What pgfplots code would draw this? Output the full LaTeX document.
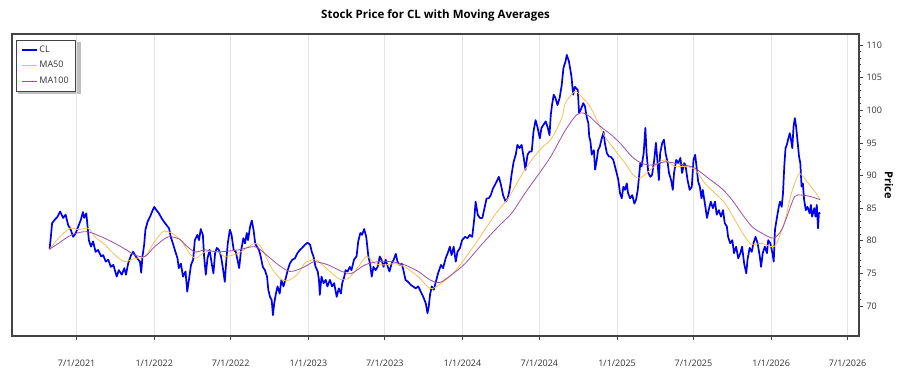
\documentclass[border=0pt]{standalone}
\usepackage{fontspec}
\setmainfont{Open Sans}
\usepackage{pgfplots}
\usepackage{pgfplotstable}
\pgfplotsset{compat=1.18}
\definecolor{clblue}{HTML}{0000F0}
\definecolor{maorange}{HTML}{F8BE55}
\definecolor{mapurple}{HTML}{9A4FA6}
\definecolor{axisgray}{HTML}{444444}
\definecolor{gridgray}{HTML}{E4E4E4}
\definecolor{ticktext}{HTML}{333333}

\pgfplotstableread{
d v
117 78.7
120 80.6
123 82.7
129 83.2
136 83.7
142 84.5
149 83.5
155 84.0
161 82.4
167 81.7
173 80.6
179 81.2
185 82.2
191 83.2
196 84.4
199 83.5
204 84.2
207 82.2
210 80.1
215 79.1
220 79.9
226 78.3
232 78.6
239 77.6
244 77.8
250 76.8
256 77.1
262 76.0
268 76.3
276 74.5
281 75.5
288 74.8
294 75.8
298 74.8
303 76.5
310 77.8
315 78.3
321 77.6
327 77.1
331 76.8
334 75.1
337 77.6
341 79.4
344 81.7
349 82.9
355 83.7
360 84.5
365 85.2
370 84.7
376 84.2
382 83.5
388 82.9
394 82.4
400 81.9
404 80.6
410 79.4
415 78.3
420 77.3
423 75.8
428 76.5
433 74.5
439 75.3
443 72.2
447 74.0
452 76.3
457 77.1
461 80.1
467 80.9
471 80.1
475 81.8
480 80.9
483 77.6
487 74.8
491 77.3
496 78.6
501 76.5
505 75.0
509 78.1
513 78.9
518 78.6
523 77.6
527 76.0
532 73.7
535 76.5
539 79.6
544 81.7
548 80.9
553 78.6
558 78.3
562 77.1
566 75.8
570 78.3
576 80.4
580 79.6
584 81.2
587 80.1
592 82.2
596 83.1
600 81.7
604 79.6
608 79.1
613 78.6
617 77.6
622 76.0
627 75.5
632 74.5
635 72.5
639 71.4
643 70.9
646 68.6
649 70.4
653 71.9
657 73.0
662 71.9
666 74.0
671 73.0
676 74.2
681 75.5
686 76.5
692 77.1
698 77.3
704 78.1
710 78.6
715 78.9
722 79.4
728 79.7
734 79.4
738 78.3
742 77.6
747 76.0
752 75.3
755 74.0
757 71.7
761 74.5
766 73.5
771 74.0
775 73.0
781 74.0
786 73.0
791 73.5
797 71.4
802 72.7
807 71.9
810 73.5
815 74.5
818 75.5
823 75.3
828 76.0
832 75.5
838 77.1
844 77.6
848 79.9
853 81.2
857 80.9
862 81.8
867 80.6
872 77.6
876 76.5
880 74.5
884 76.0
889 75.5
894 76.0
899 77.6
903 77.1
908 76.0
913 77.1
918 76.0
922 75.3
927 76.5
932 77.1
937 78.0
941 76.8
946 76.3
951 76.5
955 75.5
960 74.0
966 73.7
973 73.2
978 73.0
984 72.7
990 73.0
996 72.2
1002 71.4
1008 70.4
1012 68.9
1015 69.9
1018 71.7
1022 73.0
1027 72.5
1031 73.5
1037 75.0
1044 76.3
1049 75.8
1055 77.3
1061 78.3
1065 79.1
1069 77.8
1074 79.1
1079 76.8
1083 78.3
1089 78.9
1094 80.1
1101 80.6
1107 80.4
1112 80.9
1118 80.6
1123 83.5
1126 86.0
1131 84.0
1136 83.5
1142 83.5
1146 84.7
1152 86.5
1157 86.5
1162 87.0
1167 88.0
1172 88.6
1176 89.1
1181 89.8
1186 88.6
1191 87.0
1197 86.0
1202 86.5
1207 88.0
1211 90.1
1216 92.1
1221 93.2
1225 94.7
1230 94.2
1235 94.7
1240 92.7
1244 90.9
1249 93.2
1254 93.7
1259 93.7
1263 96.7
1268 98.5
1273 97.3
1278 95.7
1282 97.3
1287 97.8
1292 98.3
1297 97.3
1301 96.2
1304 99.3
1307 100.8
1311 102.4
1315 101.9
1320 100.8
1325 101.9
1330 103.9
1334 106.5
1339 107.5
1342 108.5
1347 107.5
1353 105.2
1357 102.4
1361 103.6
1368 103.1
1371 99.6
1375 100.1
1381 101.1
1385 100.6
1389 99.0
1393 98.0
1395 96.0
1398 95.2
1401 93.2
1406 93.9
1409 90.9
1413 92.4
1416 93.9
1420 94.4
1424 95.5
1429 96.7
1432 95.0
1437 93.4
1442 92.9
1446 92.9
1452 92.4
1456 91.4
1460 90.4
1464 89.3
1468 87.3
1472 86.5
1476 88.3
1480 87.8
1484 88.8
1487 87.3
1492 86.5
1497 87.0
1502 85.7
1506 86.3
1510 87.8
1513 89.8
1516 91.9
1519 91.4
1524 93.4
1528 97.3
1531 93.4
1535 90.4
1540 89.8
1544 90.1
1549 92.4
1553 95.0
1557 91.9
1560 89.3
1563 93.4
1568 95.0
1572 95.5
1576 93.4
1581 91.9
1584 90.4
1589 89.3
1593 87.8
1596 90.4
1601 92.4
1606 91.9
1611 92.7
1615 90.4
1620 91.9
1623 91.6
1628 89.3
1633 87.8
1638 88.3
1642 92.4
1646 93.2
1650 90.9
1653 89.1
1657 88.3
1661 86.5
1664 87.8
1669 85.7
1674 83.5
1678 84.7
1683 86.0
1688 85.0
1693 86.0
1697 84.0
1702 84.7
1707 83.7
1712 84.7
1716 82.7
1721 82.2
1724 80.6
1729 79.6
1734 80.1
1738 78.1
1743 79.1
1748 77.3
1753 78.1
1757 79.1
1762 76.5
1767 75.0
1770 77.1
1775 78.9
1780 78.3
1784 79.6
1789 80.6
1794 79.6
1799 77.6
1802 76.0
1806 78.1
1811 79.1
1816 78.1
1819 80.1
1824 79.6
1829 78.1
1832 76.8
1835 81.7
1840 83.7
1844 85.2
1847 86.0
1851 85.2
1854 87.3
1857 91.4
1860 94.2
1863 94.7
1866 95.5
1870 96.5
1873 95.5
1876 94.2
1879 97.5
1882 98.8
1885 97.5
1889 94.9
1892 92.9
1895 91.9
1898 88.3
1901 88.8
1904 86.3
1908 84.7
1912 85.2
1917 84.2
1920 85.5
1923 83.7
1928 85.0
1931 83.7
1934 85.5
1937 81.9
1939 84.2
1942 84.3
}\cltable

\pgfplotstableread{
d v
117 78.7
138 80.4
165 81.9
185 81.7
209 81.9
224 80.6
248 79.4
272 77.8
295 76.8
319 77.3
343 77.6
366 79.9
386 81.4
406 81.2
426 80.2
438 79.1
461 77.3
485 78.3
516 78.3
532 77.6
564 78.1
603 79.6
619 78.9
643 75.8
667 74.0
686 74.0
706 75.0
722 76.6
746 77.1
769 76.0
801 74.2
824 74.2
848 76.0
868 77.6
888 76.5
911 76.3
935 76.5
958 76.0
990 74.5
1018 72.7
1041 73.3
1077 75.3
1124 79.4
1172 84.0
1203 86.5
1235 90.1
1259 92.4
1282 94.2
1306 95.7
1330 98.8
1338 101.0
1361 102.9
1381 101.8
1397 100.6
1413 98.5
1432 96.0
1456 93.9
1480 91.9
1499 90.1
1515 89.6
1535 90.6
1559 91.9
1574 92.4
1598 91.4
1622 91.4
1646 90.9
1669 88.8
1693 87.3
1717 85.7
1740 83.2
1764 80.6
1780 79.4
1803 79.6
1827 79.1
1839 79.6
1859 83.2
1874 87.3
1890 90.1
1898 90.1
1914 88.8
1930 87.5
1942 86.3
}\mafiftytable

\pgfplotstableread{
d v
117 78.7
138 79.6
169 80.9
205 81.4
240 80.6
272 79.6
299 78.6
319 77.8
343 77.6
366 79.1
398 80.6
426 80.2
438 79.4
461 78.3
485 78.6
516 78.3
564 78.6
603 79.1
631 77.8
659 76.3
686 75.3
714 75.8
734 76.5
746 76.8
777 76.3
809 75.3
832 75.0
864 76.3
895 76.8
927 76.8
958 76.3
990 75.3
1018 74.0
1041 73.6
1069 74.8
1101 76.5
1140 79.4
1180 82.2
1211 84.2
1243 87.3
1274 90.1
1302 92.7
1326 95.5
1342 97.3
1365 99.3
1381 99.6
1397 99.0
1413 98.0
1428 97.2
1448 96.2
1472 94.7
1496 92.9
1519 91.9
1543 91.6
1574 92.1
1598 91.9
1622 91.6
1646 91.1
1677 89.6
1709 88.0
1733 86.3
1756 84.2
1780 82.2
1803 81.2
1831 80.4
1851 81.7
1866 84.2
1882 86.8
1898 87.0
1918 86.8
1942 86.3
}\mahundredtable

\begin{document}
\begin{tikzpicture}
\useasboundingbox (-12pt,-39pt) rectangle (888pt,336pt);
% legend drop shadow, drawn underneath the legend box
\fill[gray, opacity=0.5] (6.3pt,242.3pt) rectangle (68.8pt,294.3pt);
\begin{axis}[
  at={(0,0)}, anchor=south west,
  scale only axis, width=847pt, height=302pt,
  xmin=28, xmax=2034, ymin=65.4, ymax=111.7,
  axis line style={draw=axisgray, line width=1.2pt},
  xtick={181,365,546,730,911,1095,1277,1461,1642,1826,2007},
  xticklabels={7/1/2021,1/1/2022,7/1/2022,1/1/2023,7/1/2023,1/1/2024,7/1/2024,1/1/2025,7/1/2025,1/1/2026,7/1/2026},
  xtick pos=left, xticklabel pos=left,
  ytick pos=right, yticklabel pos=right,
  tick align=outside,
  major tick length=4pt, minor tick length=2pt,
  ytick={70,75,...,110},
  minor y tick num=4,
  tick style={draw=axisgray, line width=0.8pt},
  xmajorgrids, grid style={draw=gridgray, line width=0.7pt},
  tick label style={font=\fontsize{9}{10}\selectfont, text=ticktext},
  xticklabel style={yshift=-16pt},
  /pgf/number format/assume math mode=true,
  title={Stock Price for CL with Moving Averages},
  title style={font=\bfseries\fontsize{11.5}{14}\selectfont, at={(axis description cs:0.5,1)}, anchor=center, yshift=13pt},
  ylabel={Price},
  ylabel style={font=\bfseries\fontsize{11}{13}\selectfont, text=black, at={(axis description cs:1.0354,0.5)}, rotate=180, anchor=center},
  legend style={at={(axis description cs:0,1)}, anchor=north west, xshift=4.3pt, yshift=-5.7pt,
    draw=axisgray, fill=white, font=\fontsize{9}{10}\selectfont, text=ticktext,
    inner xsep=5pt, inner ysep=4.5pt, row sep=4.5pt,
    nodes={inner sep=1.5pt}},
  legend cell align=left,
]
\addlegendimage{legend image code/.code={\draw[draw=clblue, line width=1.4pt] (0pt,0pt) -- (15pt,0pt);}}
\addlegendentry{CL}
\addlegendimage{legend image code/.code={\draw[draw=maorange, line width=0.8pt] (0pt,0pt) -- (15pt,0pt);}}
\addlegendentry{MA50}
\addlegendimage{legend image code/.code={\draw[draw=mapurple, line width=0.8pt] (0pt,0pt) -- (15pt,0pt);}}
\addlegendentry{MA100}
\addplot[draw=clblue, line width=1.7pt, line join=round, forget plot] table[x=d,y=v] {\cltable};
\addplot[draw=maorange, line width=0.8pt, smooth, forget plot] table[x=d,y=v] {\mafiftytable};
\addplot[draw=mapurple, line width=0.8pt, smooth, forget plot] table[x=d,y=v] {\mahundredtable};
\end{axis}
\end{tikzpicture}
\end{document}
